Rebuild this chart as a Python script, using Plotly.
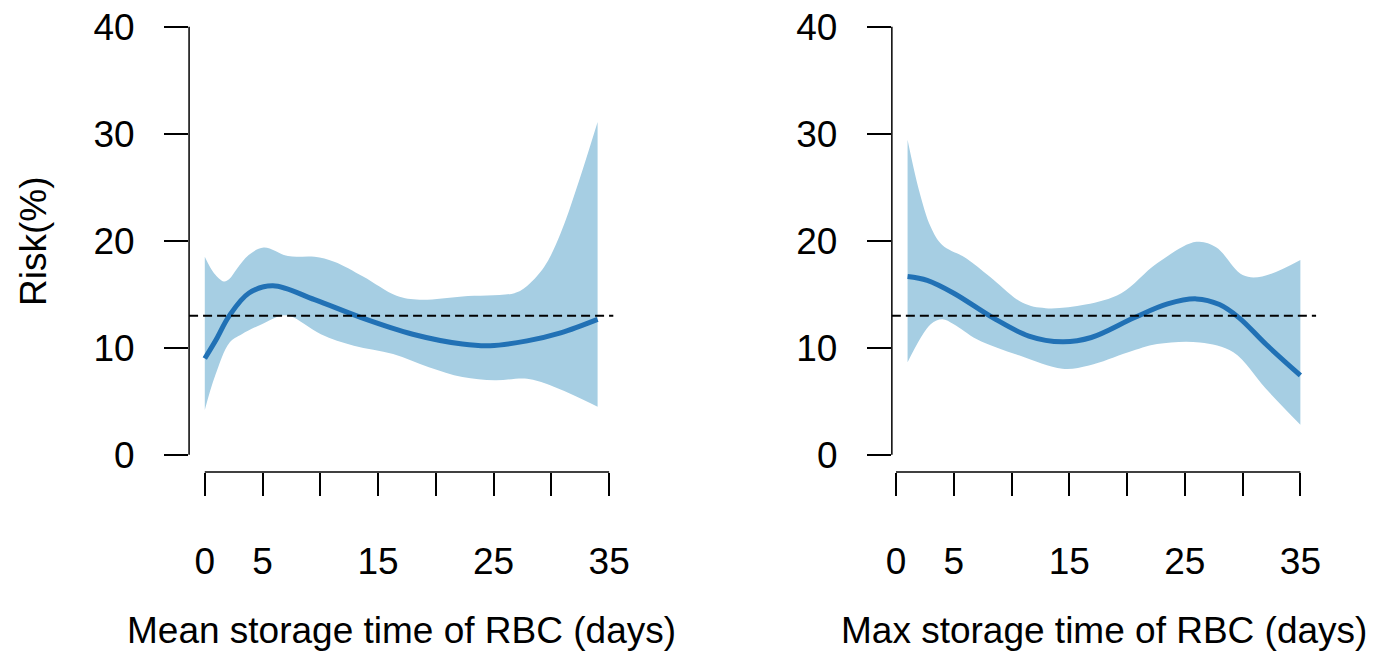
import plotly.graph_objects as go

# ---- data ----
ref_risk = 13.0

mean_line_x = [0, 1.0, 2.1, 3.8, 5.9, 9.5, 13.6, 18.0, 22.3, 24.7, 27.9, 30.8, 34]
mean_line_y = [9.0, 10.8, 12.96, 15.1, 15.8, 14.5, 12.8, 11.27, 10.35, 10.19, 10.65, 11.4, 12.66]
mean_up_x = [0, 0.8, 1.65, 2.1, 2.8, 3.8, 5.1, 7.2, 9.5, 11.2, 13.7, 16.6, 18.6, 22.3, 26.8, 27.7, 29.4, 30.8, 32.2, 34]
mean_up_y = [18.5, 16.97, 16.2, 16.4, 17.4, 18.66, 19.37, 18.57, 18.5, 18.04, 16.66, 14.87, 14.5, 14.8, 15.1, 15.6, 17.6, 20.7, 24.97, 31.1]
mean_lo_x = [0, 0.9, 2.15, 3.2, 5.2, 6.6, 7.4, 10.05, 12.9, 16.3, 19.4, 22.3, 25.1, 27.9, 29.9, 34]
mean_lo_y = [4.19, 7.4, 10.5, 11.27, 12.35, 13.0, 12.96, 11.27, 10.19, 9.42, 8.19, 7.27, 6.96, 7.11, 6.5, 4.5]

max_line_x = [1, 2.7, 5.0, 8.4, 11.5, 14.4, 16.9, 20.6, 23.5, 26.0, 28.0, 29.7, 32.0, 35]
max_line_y = [16.66, 16.3, 15.1, 12.8, 11.1, 10.56, 10.96, 12.8, 14.1, 14.57, 14.04, 12.8, 10.35, 7.42]
max_up_x = [1, 2.0, 3.0, 4.0, 6.1, 8.1, 10.96, 12.95, 16.4, 19.5, 22.6, 26.0, 27.7, 30.0, 31.7, 35]
max_up_y = [29.44, 24.67, 21.3, 19.6, 18.35, 16.66, 14.2, 13.7, 14.04, 15.1, 17.9, 19.9, 19.4, 16.8, 16.66, 18.2]
max_lo_x = [1, 3.0, 4.0, 5.0, 7.0, 10.7, 14.4, 16.7, 20.1, 22.6, 26.3, 29.2, 32.0, 35]
max_lo_y = [8.65, 12.2, 12.66, 12.2, 10.8, 9.27, 8.04, 8.34, 9.58, 10.35, 10.5, 9.58, 6.19, 2.8]

x_tickvals = [0, 5, 10, 15, 20, 25, 30, 35]
x_ticktext = ["0", "5", "", "15", "", "25", "", "35"]
y_tickvals = [0, 10, 20, 30, 40]
y_lim = [0, 40]

x_titles = ["Mean storage time of RBC (days)", "Max storage time of RBC (days)"]
y_title = "Risk(%)"

# ---- styling ----
W, H = 1400, 655
FONT = "Liberation Sans, Arial, sans-serif"
FS = 37
BAND = "#a6cee3"
LINE = "#2171b5"


def r_range(vals):
    lo, hi = min(vals), max(vals)
    d = (hi - lo) * 0.04
    return [lo - d, hi + d]


panels = [
    (mean_line_x, mean_line_y, mean_up_x, mean_up_y, mean_lo_x, mean_lo_y),
    (max_line_x, max_line_y, max_up_x, max_up_y, max_lo_x, max_lo_y),
]
x_domains = [[186 / W, 617 / W], [900 / W, 1331 / W]]
y_domain = [(H - 474) / H, (H - 6.7) / H]
yr = r_range(y_lim)

fig = go.Figure()
shapes = []
annotations = []

for i, (lx, ly, ux, uy, dx, dy) in enumerate(panels):
    xa = "x" if i == 0 else "x2"
    ya = "y" if i == 0 else "y2"
    fig.add_trace(go.Scatter(x=dx, y=dy, mode="lines", line=dict(width=0, color=BAND, shape="spline"),
                             xaxis=xa, yaxis=ya, showlegend=False, hoverinfo="skip"))
    fig.add_trace(go.Scatter(x=ux, y=uy, mode="lines", line=dict(width=0, color=BAND, shape="spline"),
                             fill="tonexty", fillcolor=BAND,
                             xaxis=xa, yaxis=ya, showlegend=False, hoverinfo="skip"))
    fig.add_trace(go.Scatter(x=lx, y=ly, mode="lines", line=dict(width=5, color=LINE, shape="spline"),
                             xaxis=xa, yaxis=ya, showlegend=False))
    xr = r_range(lx + ux + dx)
    ax = dict(domain=x_domains[i], range=xr, showgrid=False, zeroline=False, showline=False,
              tickmode="array", tickvals=x_tickvals, ticktext=x_ticktext,
              ticks="outside", ticklen=23, tickwidth=1.5, tickcolor="black",
              tickfont=dict(family=FONT, size=FS, color="black"), ticklabelstandoff=34,
              anchor=ya, fixedrange=True)
    ayd = dict(domain=y_domain, range=yr, showgrid=False, zeroline=False, showline=False,
               tickmode="array", tickvals=y_tickvals,
               ticks="outside", ticklen=24, tickwidth=1.5, tickcolor="black",
               tickfont=dict(family=FONT, size=FS, color="black"), ticklabelstandoff=22,
               anchor=xa, fixedrange=True)
    xk = "xaxis" if i == 0 else "xaxis2"
    yk = "yaxis" if i == 0 else "yaxis2"
    fig.update_layout(**{xk: ax, yk: ayd})

    # R-style axis lines spanning first to last tick
    shapes.append(dict(type="line", xref=xa, yref=ya + " domain", x0=x_tickvals[0], x1=x_tickvals[-1],
                       y0=0, y1=0, line=dict(color="black", width=1.5)))
    shapes.append(dict(type="line", xref=xa + " domain", yref=ya, x0=0, x1=0,
                       y0=y_tickvals[0], y1=y_tickvals[-1], line=dict(color="black", width=1.5)))
    # reference (dashed) line across the plot region
    shapes.append(dict(type="line", xref=xa + " domain", yref=ya, x0=0, x1=1, y0=ref_risk, y1=ref_risk,
                       line=dict(color="black", width=2, dash="9px,5px")))
    annotations.append(dict(text=x_titles[i], xref="paper", yref="paper",
                            x=(x_domains[i][0] + x_domains[i][1]) / 2, y=(H - 634) / H,
                            xanchor="center", yanchor="middle", showarrow=False,
                            font=dict(family=FONT, size=FS, color="black")))

annotations.append(dict(text=y_title, xref="paper", yref="paper", x=28 / W, y=(H - 241) / H,
                        xanchor="center", yanchor="middle", textangle=-90, showarrow=False,
                        font=dict(family=FONT, size=FS, color="black")))

fig.update_layout(width=W, height=H, margin=dict(l=0, r=0, t=0, b=0),
                  paper_bgcolor="white", plot_bgcolor="white",
                  shapes=shapes, annotations=annotations, showlegend=False)

fig.write_html("out.html", config={"displayModeBar": False},
               post_script="document.body.style.margin='0';document.body.style.overflow='hidden';")
